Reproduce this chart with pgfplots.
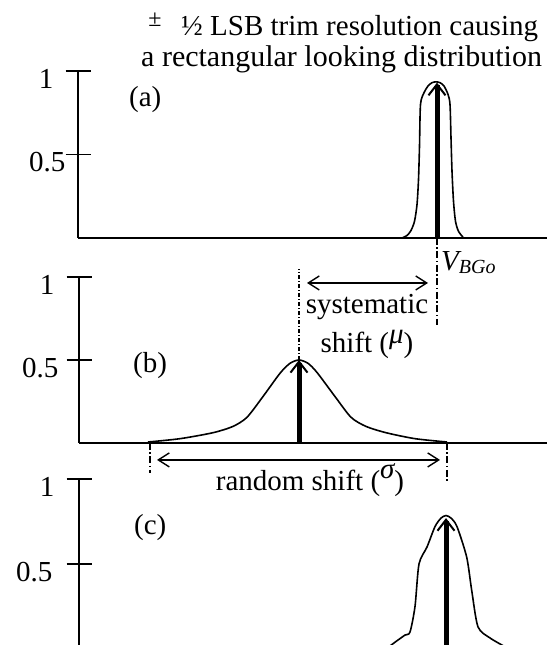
\documentclass[border=0pt]{standalone}
\usepackage{pgfplots}
\pgfplotsset{compat=1.18}
\usepackage{fontspec}
\setmainfont{Liberation Serif}
\usetikzlibrary{arrows.meta}

% three stacked distributions of the bandgap output voltage
\pgfplotstableread{
x v
402 0
407 0.015
411 0.045
414.5 0.1
417 0.2
418.5 0.35
419.5 0.55
420.5 0.8
424 0.87
428 0.91
432 0.93
436 0.935
440 0.93
444 0.91
448 0.86
450 0.8
451 0.6
452 0.4
453.5 0.22
455.5 0.1
458.5 0.04
463 0.005
}\trimmed

\pgfplotstableread{
x v
148 0.006
180 0.026
213 0.062
233 0.1
247 0.155
263 0.28
280 0.42
290 0.48
299 0.5
308 0.48
317 0.425
335 0.28
351 0.155
366 0.1
386 0.062
415 0.026
447 0.006
}\untrimmed

\pgfplotstableread{
x v
386 0.0
395 0.04
405 0.082
410 0.1
415 0.25
419 0.5
427 0.6
435 0.72
441 0.77
446 0.785
451 0.77
457 0.72
466.7 0.54
471.7 0.345
478 0.13
490 0.065
503 0.02
}\centred

\newcommand\bigfont{\fontsize{29}{33}\selectfont}
\newcommand\headfont{\fontsize{30}{34}\selectfont}
\newcommand\subfont{\fontsize{20}{22}\selectfont}
\newcommand\gap[1]{\rule{#1}{0pt}}

\tikzset{
  mean/.style={line width=5pt, -{Straight Barb[length=11pt,width=17pt,line width=2pt]}},
  span/.style={line width=1.4pt, {Straight Barb[length=11pt,width=14pt]}-{Straight Barb[length=11pt,width=14pt]}},
  mark line/.style={line width=1.5pt, dash pattern=on 7pt off 2.5pt on 1.5pt off 2.5pt},
  fine mark/.style={line width=1.1pt, dash pattern=on 4pt off 2pt on 1pt off 2pt},
}

\pgfplotsset{
  panel/.style={
    scale only axis, clip=false,
    axis x line*=bottom, axis y line*=left,
    axis line style={line width=1.7pt, -},
    xtick=\empty, ytick={0.5,1},
    tick align=center, major tick length=25pt,
    every tick/.style={line width=1.7pt, black},
    yticklabel style={font=\bigfont, inner sep=0pt, anchor=north east, yshift=2pt},
    ymin=0, ymax=1,
  },
  curve/.style={line width=1.6pt, black, smooth, tension=0.45},
}

\begin{document}
\begin{tikzpicture}[x=1pt, y=1pt, font=\bigfont]
\path[use as bounding box] (0,0) rectangle (547,645);
\clip (0,0) rectangle (547,645);

% heading
\node[font=\fontsize{24}{26}\selectfont] at (155,625) {±};
\node[anchor=base west, inner sep=0pt, font=\bigfont] at (181,609) {½ LSB trim resolution causing};
\node[anchor=base west, inner sep=0pt, font=\headfont] at (141,578) {a rectangular looking distribution};

% (a) after trimming
\begin{axis}[panel, at={(78pt,407pt)}, anchor=south west,
  width=469pt, height=167pt, xmin=78, xmax=547,
  yticklabels={{0.5},{1\gap{12pt}}}]
  \addplot[curve] table[x=x, y=v] {\trimmed};
  \draw[mean] (axis cs:437,0) -- (axis cs:437,0.93);
  \draw[mark line] (axis cs:437,0) -- (axis cs:437,-0.52);
\end{axis}
\node[anchor=base west, inner sep=0pt] at (129,538) {(a)};
\node[anchor=base west, inner sep=0pt] at (441,374) {\itshape V\raisebox{-3pt}{\subfont BGo}};

% (b) before trimming
\begin{axis}[panel, at={(79pt,202pt)}, anchor=south west,
  width=468pt, height=166pt, xmin=79, xmax=547,
  yticklabels={{0.5\gap{8pt}},{1\gap{12pt}}}]
  \addplot[curve] table[x=x, y=v] {\untrimmed};
  \draw[mean] (axis cs:299,0) -- (axis cs:299,0.5);
  \draw[fine mark] (axis cs:299,0.5) -- (axis cs:299,1.05);
  \draw[span] (axis cs:307,0.964) -- (axis cs:428,0.964);
  \node[anchor=base, inner sep=0pt] at (axis cs:367,0.778) {systematic};
  \node[anchor=base, inner sep=0pt] at (axis cs:367,0.545)
    {shift (\raisebox{9pt}{\itshape μ})};
  \draw[mark line] (axis cs:150,0) -- (axis cs:150,-0.18);
  \draw[mark line] (axis cs:447,0) -- (axis cs:447,-0.24);
  \draw[span] (axis cs:157,-0.102) -- (axis cs:440,-0.102);
  \node[anchor=base, inner sep=0pt] at (axis cs:310,-0.289)
    {random shift (\raisebox{12pt}{\itshape σ})};
\end{axis}
\node[anchor=base west, inner sep=0pt] at (133,272) {(b)};

% (c) per-part spread
\begin{axis}[panel, at={(79pt,-4pt)}, anchor=south west,
  width=468pt, height=170pt, xmin=79, xmax=547,
  yticklabels={{0.5\gap{14pt}},{1\gap{12pt}}}]
  \addplot[curve] table[x=x, y=v] {\centred};
  \draw[mean] (axis cs:446,-0.1) -- (axis cs:446,0.77);
\end{axis}
\node[anchor=base west, inner sep=0pt] at (134,110) {(c)};
\end{tikzpicture}
\end{document}
